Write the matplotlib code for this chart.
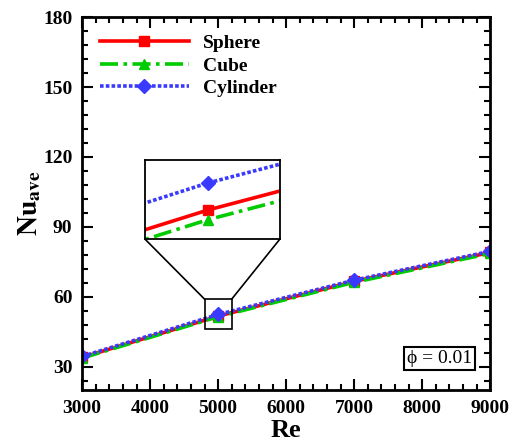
import matplotlib
matplotlib.use("Agg")
import matplotlib.pyplot as plt
from matplotlib.patches import Rectangle, ConnectionPatch
from matplotlib.ticker import MultipleLocator

# data
re_vals = [3000, 5000, 7000, 9000]
sphere = [34.0, 51.7, 66.6, 79.0]
cube = [33.7, 51.45, 66.2, 78.6]
cylinder = [34.4, 52.4, 67.1, 79.5]
labels = ["Sphere", "Cube", "Cylinder"]

plt.rcParams['font.family'] = ['Liberation Serif', 'DejaVu Serif']
plt.rcParams['mathtext.fontset'] = 'stix'

styles = [
    dict(color='#ff0000', ls='-', marker='s'),
    dict(color='#00cc00', ls=(0, (5, 1.5, 1, 1.5)), marker='^'),
    dict(color='#3a3aff', ls=(0, (1, 0.6)), marker='D'),
]
series = [sphere, cube, cylinder]

fig = plt.figure(figsize=(5.1, 4.45), dpi=100)
ax = fig.add_axes([0.161, 0.1236, 0.80, 0.838])

for vals, lab, st in zip(series, labels, styles):
    ax.plot(re_vals, vals, label=lab, lw=2.6, ms=7, **st)

ax.set_xlim(3000, 9000)
ax.set_ylim(20, 180)
ax.xaxis.set_major_locator(MultipleLocator(1000))
ax.xaxis.set_minor_locator(MultipleLocator(200))
ax.yaxis.set_minor_locator(MultipleLocator(6))
ax.set_yticks([30, 60, 90, 120, 150, 180])
ax.tick_params(which='both', direction='in', top=True, right=True, width=1.5)
ax.tick_params(which='major', length=8, labelsize=14, pad=7)
ax.tick_params(which='minor', length=4)
for t in ax.get_xticklabels() + ax.get_yticklabels():
    t.set_fontweight('bold')
for sp in ax.spines.values():
    sp.set_linewidth(2)

ax.set_xlabel("Re", fontsize=19, fontweight='bold', labelpad=2)
ax.set_ylabel(r"$\mathbf{Nu}_{\mathbf{ave}}$", fontsize=20, labelpad=0)

leg = ax.legend(loc='upper left', frameon=False, handlelength=4.6,
                prop=dict(size=14, weight='bold'), borderaxespad=0.5,
                labelspacing=0.25, handletextpad=0.7,
                bbox_to_anchor=(0.0, 1.0))

ax.text(0.955, 0.085, "\u03d5 = 0.01", transform=ax.transAxes, ha='right',
        va='center', fontsize=14,
        bbox=dict(boxstyle='square,pad=0.15', fc='white', ec='black', lw=1.5))

# zoom box in main axes
bx0, bx1, by0, by1 = 4800, 5200, 46, 59
ax.add_patch(Rectangle((bx0, by0), bx1 - bx0, by1 - by0, fill=False,
                       ec='black', lw=1.2, zorder=5))

# inset
ins = fig.add_axes([0.284, 0.463, 0.265, 0.178])
for vals, st in zip(series, styles):
    ins.plot(re_vals, vals, lw=2.6, ms=7, **st)
ins.set_xlim(4942, 5066)
ins.set_ylim(50.95, 53.0)
ins.set_xticks([])
ins.set_yticks([])
for sp in ins.spines.values():
    sp.set_linewidth(1.3)

for xa, xb in [((bx0, by1), (0, 0)), ((bx1, by1), (1, 0))]:
    con = ConnectionPatch(xyA=xa, coordsA=ax.transData, xyB=xb,
                          coordsB=ins.transAxes, color='black', lw=1.2)
    fig.add_artist(con)

fig.savefig("out.png", dpi=100)
